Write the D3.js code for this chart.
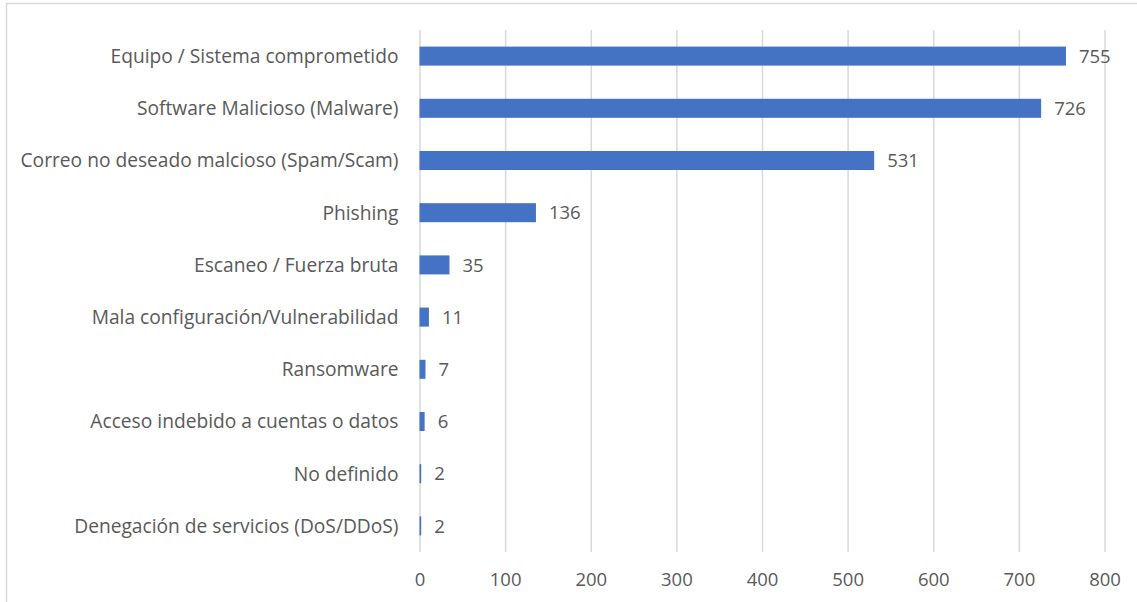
<!DOCTYPE html>
<html>
<head>
<meta charset="utf-8">
<script src="https://cdn.jsdelivr.net/npm/d3@7"></script>
<style>
  html, body { margin: 0; padding: 0; background: #fff; }
  svg { display: block; }
  text { font-family: "Open Sans", sans-serif; fill: #595959; }
</style>
</head>
<body>
<svg id="chart" width="1137" height="602"></svg>
<script>
const categories = [
  "Equipo / Sistema comprometido",
  "Software Malicioso (Malware)",
  "Correo no deseado malcioso (Spam/Scam)",
  "Phishing",
  "Escaneo / Fuerza bruta",
  "Mala configuración/Vulnerabilidad",
  "Ransomware",
  "Acceso indebido a cuentas o datos",
  "No definido",
  "Denegación de servicios (DoS/DDoS)"
];
const values = [755, 726, 531, 136, 35, 11, 7, 6, 2, 2];
const xTicks = [0, 100, 200, 300, 400, 500, 600, 700, 800];

(function () {
const svg = d3.select("#chart");
const W = 1137, H = 602;
const mLeft = 419.5, mRight = 1104.5, mTop = 30, mBottom = 552;
const fontSize = 18.5;
const catFontSize = 19.2;

// outer border
svg.append("rect")
  .attr("x", 6.5).attr("y", 3.5)
  .attr("width", W + 20).attr("height", H + 20)
  .attr("fill", "none").attr("stroke", "#d9d9d9").attr("stroke-width", 1.5);

const x = d3.scaleLinear().domain([0, 800]).range([mLeft, mRight]);
const y = d3.scaleBand().domain(categories).range([mTop, mBottom]).paddingInner(0.636).paddingOuter(0.318);

// gridlines
const xAxis = d3.axisBottom(x).tickValues(xTicks).tickSize(-(mBottom - mTop)).tickPadding(0).tickFormat(d3.format("d"));
const gx = svg.append("g").attr("transform", `translate(0,${mBottom})`).call(xAxis);
gx.select(".domain").remove();
gx.selectAll(".tick line").attr("stroke", "#d9d9d9").attr("stroke-width", 1.5);
gx.selectAll(".tick text")
  .attr("y", 0).attr("dy", 0)
  .attr("transform", "translate(0,34)")
  .style("font-size", fontSize + "px")
  .style("font-family", "'Open Sans', sans-serif")
  .attr("fill", "#595959");

// category axis labels
const yAxis = d3.axisLeft(y).tickSize(0).tickPadding(21);
const gy = svg.append("g").attr("transform", `translate(${mLeft},0)`).call(yAxis);
gy.select(".domain").remove();
gy.selectAll(".tick text")
  .style("font-size", catFontSize + "px")
  .style("font-family", "'Open Sans', sans-serif")
  .attr("fill", "#595959")
  .attr("dy", "0.36em");

// bars
svg.append("g").selectAll("rect")
  .data(categories)
  .join("rect")
  .attr("x", x(0))
  .attr("y", (d) => y(d))
  .attr("width", (d, i) => x(values[i]) - x(0))
  .attr("height", y.bandwidth())
  .attr("fill", "#4472C4");

// value labels
svg.append("g").selectAll("text")
  .data(categories)
  .join("text")
  .attr("x", (d, i) => x(values[i]) + 13)
  .attr("y", (d) => y(d) + y.bandwidth() / 2)
  .attr("dy", "0.36em")
  .style("font-size", fontSize + "px")
  .text((d, i) => values[i]);
})();
</script>
</body>
</html>
